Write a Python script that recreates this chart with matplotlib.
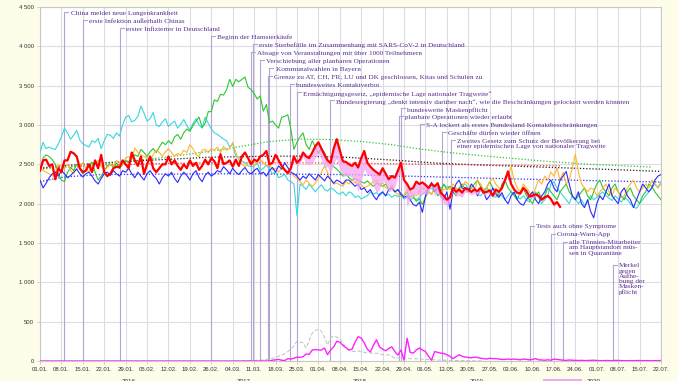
import matplotlib.pyplot as plt
from matplotlib.patches import Rectangle
import numpy as np

# ── daily deaths, day 0 = 01.01. ─────────────────────────────────
deaths_2016 = [
    2300, 2200, 2260, 2330, 2380, 2400, 2350, 2420, 2380, 2330, 2360, 2400, 2440, 2380,
    2340, 2380, 2400, 2350, 2290, 2250, 2320, 2380, 2400, 2360, 2420, 2380, 2350, 2420,
    2400, 2450, 2380, 2330, 2400, 2350, 2300, 2380, 2420, 2360, 2320, 2250, 2330, 2380,
    2350, 2400, 2320, 2270, 2350, 2400, 2360, 2300, 2380, 2420, 2330, 2280, 2360, 2400,
    2350, 2380, 2420, 2400, 2470, 2430, 2380, 2450, 2400, 2370, 2420, 2460, 2400, 2380,
    2420, 2450, 2380, 2400, 2350, 2420, 2460, 2400, 2480, 2440, 2520, 2460, 2400, 2380,
    2350, 2300, 2350, 2320, 2380, 2340, 2300, 2370, 2330, 2290, 2350, 2310, 2260, 2300,
    2280, 2250, 2300, 2300, 2260, 2220, 2250, 2180, 2200, 2140, 2180, 2100, 2050, 2120,
    2150, 2100, 2180, 2200, 2150, 2180, 2120, 2080, 2100, 2050, 1990, 1970, 2020, 1890,
    2100, 2200, 2270, 2150, 2200, 2100, 2050, 2150, 1930, 2150, 2250, 2300, 2200, 2180,
    2150, 2250, 2200, 2100, 2180, 2150, 2050, 2100, 2200, 2120, 2080, 2140, 2050, 2000,
    2100, 2150, 2050, 2000, 1980, 2050, 2100, 2150, 2050, 2000, 2100, 2150, 2250, 2300,
    2200, 2150, 2300, 2350, 2410, 2250, 2100, 2050, 2150, 2000, 1950, 2050, 1900, 1820,
    2000, 2100, 2050, 2150, 2250, 2100, 2050, 2000, 2150, 2200, 2100, 2050, 1950, 2050,
    2150, 2250, 2200, 2150, 2200, 2300, 2350, 2370]

deaths_2017 = [
    2650, 2780, 2700, 2720, 2700, 2690, 2760, 2850, 2960, 2900, 2820, 2870, 2930, 2810,
    2760, 2740, 2720, 2800, 2780, 2830, 2700, 2800, 2880, 2870, 2830, 2900, 2860, 3000,
    3100, 3120, 3040, 3060, 3110, 3240, 3150, 3050, 3080, 3160, 3000, 2980, 3040, 3080,
    2980, 3020, 3050, 2960, 3010, 3070, 2990, 2940, 3020, 3080, 3000, 2960, 3100, 3020,
    2950, 2900, 2880, 2850, 2820, 2800, 2720, 2760, 2600, 2590, 2540, 2520, 2480, 2470,
    2480, 2520, 2420, 2450, 2490, 2440, 2380, 2400, 2330, 2350, 2370, 2300, 2280, 2250,
    1850, 2250, 2220, 2180, 2250, 2200, 2150, 2200, 2240, 2180, 2160, 2200, 2180, 2140,
    2120, 2150, 2100, 2150, 2130, 2080, 2100, 2060, 2080, 2100, 2150, 2120, 2140, 2100,
    2140, 2100, 2120, 2080, 2110, 2090, 2110, 2060, 2080, 2050, 2070, 2050, 2080, 2120,
    2150, 2180, 2200, 2160, 2220, 2200, 2240, 2210, 2220, 2180, 2200, 2160, 2230, 2250,
    2200, 2150, 2180, 2120, 2100, 2150, 2200, 2160, 2120, 2080, 2130, 2100, 2050, 2100,
    2150, 2120, 2080, 2060, 2100, 2050, 2020, 2100, 2150, 2080, 2000, 2050, 2100, 2250,
    2280, 2200, 2150, 2100, 2050, 2000, 2100, 2060, 2000, 2050, 1980, 2020, 2100, 2050,
    2080, 2120, 2150, 2100, 2070, 2040, 2100, 2060, 2020, 2080, 2050, 2000, 1960, 1940,
    2000, 2050, 2100, 2150, 2200, 2250, 2200, 2280]

deaths_2018 = [
    2420, 2580, 2620, 2600, 2560, 2500, 2380, 2300, 2280, 2400, 2460, 2420, 2500, 2450,
    2380, 2420, 2480, 2530, 2400, 2300, 2350, 2420, 2480, 2500, 2460, 2520, 2450, 2500,
    2550, 2520, 2580, 2620, 2600, 2690, 2650, 2600, 2660, 2700, 2650, 2720, 2780, 2750,
    2800, 2760, 2850, 2880, 2820, 2900, 2950, 2920, 2990, 3050, 3100, 2970, 3020, 3170,
    3170, 3320, 3300, 3390, 3380, 3450, 3580, 3490, 3580, 3550, 3580, 3610, 3480, 3450,
    3400, 3330, 3370, 3175, 3260, 3030, 3050, 3000, 2960, 3100, 3110, 3130, 2950, 2690,
    2780, 2850, 2900, 2750, 2690, 2800, 2720, 2640, 2700, 2650, 2560, 2500, 2470, 2440,
    2400, 2350, 2380, 2330, 2300, 2320, 2300, 2280, 2260, 2290, 2250, 2220, 2260, 2240,
    2220, 2250, 2180, 2200, 2150, 2180, 2120, 2100, 2150, 2080, 2100, 2030, 2060, 1990,
    2080, 2150, 2120, 2200, 2100, 2150, 2250, 2180, 2220, 2150, 2100, 2200, 2250, 2180,
    2150, 2200, 2250, 2300, 2220, 2150, 2200, 2280, 2200, 2150, 2100, 2250, 2300, 2200,
    2150, 2100, 2050, 2150, 2200, 2100, 2050, 2000, 2100, 2150, 2050, 2100, 2200, 2150,
    2100, 2050, 2150, 2200, 2250, 2150, 2100, 2050, 2100, 2150, 2200, 2100, 2050, 2150,
    2250, 2300, 2200, 2150, 2100, 2200, 2250, 2150, 2100, 2050, 2150, 2200, 2100, 2050,
    2000, 2100, 2150, 2250, 2220, 2150, 2100, 2050]

deaths_2019 = [
    2450, 2420, 2400, 2380, 2350, 2400, 2500, 2480, 2450, 2500, 2420, 2380, 2450, 2480,
    2520, 2450, 2400, 2480, 2500, 2550, 2480, 2420, 2460, 2500, 2480, 2550, 2520, 2500,
    2580, 2600, 2560, 2710, 2650, 2620, 2600, 2580, 2550, 2620, 2680, 2650, 2600, 2660,
    2700, 2650, 2600, 2640, 2620, 2680, 2650, 2750, 2700, 2620, 2600, 2680, 2690, 2650,
    2700, 2680, 2720, 2650, 2730, 2680, 2700, 2780, 2650, 2550, 2500, 2470, 2520, 2550,
    2480, 2530, 2560, 2520, 2480, 2500, 2430, 2450, 2400, 2450, 2420, 2380, 2400, 2350,
    2320, 2280, 2240, 2300, 2260, 2220, 2260, 2320, 2400, 2480, 2400, 2300, 2250, 2260,
    2240, 2220, 2280, 2250, 2300, 2260, 2310, 2240, 2200, 2220, 2250, 2280, 2300, 2240,
    2260, 2200, 2180, 2240, 2150, 2120, 2090, 2100, 2180, 2150, 2120, 2100, 2160, 2200,
    2180, 2150, 2120, 2200, 2220, 2150, 2180, 2200, 2180, 2250, 2200, 2150, 2220, 2280,
    2250, 2200, 2150, 2300, 2250, 2180, 2200, 2280, 2320, 2250, 2200, 2180, 2300, 2350,
    2470, 2300, 2200, 2150, 2250, 2200, 2150, 2100, 2200, 2300, 2250, 2350, 2300, 2400,
    2350, 2450, 2300, 2400, 2250, 2300, 2450, 2630, 2400, 2250, 2200, 2150, 2200, 2180,
    2100, 2150, 2200, 2250, 2150, 2100, 2200, 2150, 2080, 2100, 2200, 2250, 2300, 2200,
    2150, 2200, 2250, 2200, 2300, 2250, 2200, 2250]

deaths_2020 = [
    2420, 2550, 2560, 2480, 2500, 2310, 2450, 2400, 2550, 2550, 2660, 2640, 2600, 2450,
    2400, 2420, 2500, 2400, 2550, 2450, 2620, 2400, 2350, 2380, 2450, 2470, 2460, 2550,
    2500, 2450, 2650, 2550, 2480, 2600, 2380, 2500, 2600, 2450, 2400, 2450, 2500, 2500,
    2600, 2500, 2550, 2480, 2430, 2500, 2450, 2550, 2480, 2520, 2430, 2480, 2560, 2500,
    2580, 2540, 2450, 2630, 2500, 2520, 2550, 2470, 2560, 2480, 2600, 2650, 2580, 2500,
    2560, 2540, 2600, 2620, 2670, 2500, 2520, 2620, 2550, 2480, 2430, 2390, 2450, 2600,
    2520, 2560, 2650, 2600, 2580, 2650, 2730, 2780, 2700, 2620, 2550, 2520, 2700, 2820,
    2680, 2540, 2530, 2500, 2480, 2520, 2460, 2580, 2670, 2520, 2470, 2430, 2400, 2370,
    2450, 2380, 2310, 2350, 2330, 2420, 2520, 2300, 2250, 2180, 2200, 2280, 2250, 2270,
    2240, 2200, 2250, 2220, 2260, 2140, 2100, 2050, 2080, 2200, 2150, 2180, 2140, 2200,
    2180, 2150, 2180, 2160, 2200, 2140, 2150, 2170, 2100, 2180, 2150, 2200, 2300, 2410,
    2250, 2180, 2140, 2130, 2200, 2160, 2090, 2100, 2120, 2100, 2050, 2080, 2100, 2060,
    1990, 2020, 1960]

# COVID-19 deaths 2020 (by date of death) and reported deaths
covid_2020 = [0] * 75 + [
    0, 10, 15, 20, 10, 5, 30, 25, 35, 50, 45, 55, 90, 85, 140,
    145, 140, 140, 165, 80, 140, 180, 250, 240, 200, 170, 140, 150, 240, 310,
    290, 230, 150, 115, 200, 270, 180, 150, 130, 160, 180, 120, 75, 140, 10,
    290, 110, 100, 140, 165, 140, 120, 60, 10, 120, 110, 100, 95, 80, 60,
    30, 55, 80, 60, 50, 45, 40, 50, 45, 35, 30, 25, 35, 30, 30,
    25, 20, 20, 25, 20, 25, 20, 15, 25, 20, 15, 20, 30, 15, 12,
    10, 15, 10, 25, 20, 15,
    10, 8, 12, 10, 8, 6, 8, 5, 6, 8, 10, 6, 5, 4, 6, 5, 4, 8, 6, 5,
    4, 3, 5, 4, 6, 5, 3, 4, 5, 3, 4, 5, 6]

reported_start = 66
reported_2020 = [
    0, 2, 5, 5, 8, 10, 12, 15, 20, 25,
    35, 45, 60, 75, 90, 120, 150, 195, 250, 240,
    230, 165, 260, 355, 390, 400, 380, 300, 205, 290,
    320, 305, 280, 230, 160, 140, 125, 120, 130, 115,
    110, 100, 105, 95, 100, 90, 80, 75, 80, 60,
    35, 40, 35, 30, 35, 30, 25, 30, 20, 25,
    20, 18, 15, 15, 12, 12, 10, 10, 8, 8,
    6, 6, 5, 5, 4, 4, 3, 3, 2, 2]

# smoothed trends (read at sample days)
trend_2018_days = [0, 15, 30, 45, 60, 75, 85, 95, 105, 115, 125, 135, 150, 165, 180, 200]
trend_2018 = [2440, 2480, 2540, 2610, 2690, 2790, 2820, 2815, 2790, 2750, 2690, 2645, 2590, 2540, 2500, 2465]
trend_mean_days = [0, 10, 25, 40, 55, 70, 85, 100, 115, 130, 145, 160, 175, 190, 203]
trend_mean = [2450, 2490, 2530, 2560, 2590, 2600, 2605, 2590, 2555, 2515, 2490, 2470, 2450, 2430, 2410]
trend_2020_days = [0, 20, 40, 60, 80, 100, 120, 140, 160, 170]
trend_2020 = [2460, 2490, 2510, 2520, 2520, 2515, 2505, 2495, 2485, 2480]
trend_2016_days = [0, 8, 20, 60, 100, 130, 160, 203]
trend_2016 = [2280, 2340, 2370, 2380, 2370, 2340, 2310, 2275]

# events: day, label height, text
event_days = [8, 14, 26, 56, 69.5, 69, 72, 75, 74.5, 81.7, 84, 94.8,
              118, 117.4, 124.2, 131.4, 134.4, 160.2, 167, 171, 187.3]
event_levels = [4436, 4335, 4233, 4130, 4028, 3926, 3824, 3722, 3620, 3518, 3416, 3314,
                3212, 3110, 3008, 2906, 2805, 1721, 1619, 1517, 1224]
event_texts = [
    "China meldet neue Lungenkrankheit",
    "erste Infektion außerhalb Chinas",
    "erster Infizierter in Deutschland",
    "Beginn der Hamsterkäufe",
    "erste Sterbefälle im Zusammenhang mit SARS-CoV-2 in Deutschland",
    "Absage von Veranstaltungen mit über 1000 Teilnehmern",
    "Verschiebung aller planbaren Operationen",
    "Kommunalwahlen in Bayern",
    "Grenze zu AT, CH, FR, LU und DK geschlossen, Kitas und Schulen zu",
    "bundesweites Kontaktverbot",
    "Ermächtigungsgesetz, „epidemische Lage nationaler Tragweite“",
    "Bundesregierung „denkt intensiv darüber nach“, wie die Beschränkungen gelockert werden könnten",
    "bundesweite Maskenpflicht",
    "planbare Operationen wieder erlaubt",
    "S-A lockert als erstes Bundesland Kontaktbeschränkungen",
    "Geschäfte dürfen wieder öffnen",
    "Zweites Gesetz zum Schutz der Bevölkerung bei\neiner epidemischen Lage von nationaler Tragweite",
    "Tests auch ohne Symptome",
    "Corona-Warn-App",
    "alle Tönnies-Mitarbeiter\nam Hauptstandort müs-\nsen in Quarantäne",
    "Merkel\ngegen\nAufhe-\nbung der\nMasken-\npflicht",
]

week_labels = ["01.01.", "08.01.", "15.01.", "22.01.", "29.01.", "05.02.", "12.02.", "19.02.",
               "26.02.", "04.03.", "11.03.", "18.03.", "25.03.", "01.04.", "08.04.", "15.04.",
               "22.04.", "29.04.", "06.05.", "13.05.", "20.05.", "27.05.", "03.06.", "10.06.",
               "17.06.", "24.06.", "01.07.", "08.07.", "15.07.", "22.07."]
y_values = [0, 500, 1000, 1500, 2000, 2500, 3000, 3500, 4000, 4500]
y_labels = ["0", "500", "1 000", "1 500", "2 000", "2 500", "3 000", "3 500", "4 000", "4 500"]
years = ["2016", "2017", "2018", "2019", "2020"]

# ── figure ────────────────────────────────────────────────────────
W, H = 678, 381
fig = plt.figure(figsize=(W / 100, H / 100), dpi=100)
fig.patch.set_facecolor("#fdfdea")
ax = fig.add_axes([40 / W, 1 - 361 / H, 621 / W, 354 / H])
ax.set_facecolor("white")
ax.set_xlim(0, 203)
ax.set_ylim(0, 4500)

for sp in ax.spines.values():
    sp.set_edgecolor("#c8c8c8")
    sp.set_linewidth(0.8)

ax.set_yticks(y_values)
ax.set_yticklabels(y_labels)
ax.set_xticks(np.arange(0, 204, 7))
ax.set_xticklabels(week_labels)
ax.tick_params(axis="both", labelsize=4.3, colors="#c8c8c8", labelcolor="#333333",
               length=2.5, width=0.6, pad=2)
for lab in ax.get_xticklabels() + ax.get_yticklabels():
    lab.set_family("Liberation Sans")
ax.grid(True, color="#dcdce6", linewidth=0.8, zorder=0)
ax.set_axisbelow(True)

# ── events: vertical line, small dash, label ─────────────────────
purple_line = "#b4a4d6"
purple_text = "#5b2d8e"
for d, lev, txt in zip(event_days, event_levels, event_texts):
    ax.plot([d, d], [0, lev], color=purple_line, lw=0.8, zorder=1)
    ax.plot([d, d + 1.3], [lev, lev], color=purple_line, lw=0.8, zorder=1)
    ax.annotate(txt, (d + 2.0, lev), fontsize=5.2, family="Liberation Serif",
                color=purple_text, va="top", ha="left", linespacing=1.05,
                xytext=(0, 1.0), textcoords="offset points", zorder=6)

days = np.arange(204)
d2020 = np.arange(len(deaths_2020))
red = np.array(deaths_2020)
cov = np.array(covid_2020)

# trends
ax.plot(trend_2018_days, trend_2018, color="#2ec62e", lw=0.9, ls=(0, (1, 1.5)), zorder=3)
ax.plot(trend_mean_days, trend_mean, color="#222222", lw=0.9, ls=(0, (1, 1.5)), zorder=3)
ax.plot(trend_2020_days, trend_2020, color="#ff3030", lw=0.9, ls=(0, (1, 1.5)), zorder=3)
ax.plot(trend_2016_days, trend_2016, color="#3030ff", lw=0.9, ls=(0, (1, 1.5)), zorder=3)

# yearly series
ax.plot(days, deaths_2017, color="#38d8dc", lw=0.8, zorder=4)
ax.plot(days, deaths_2018, color="#2ec62e", lw=0.8, zorder=4)
ax.plot(days, deaths_2019, color="#ffb52e", lw=0.8, zorder=4)
ax.plot(days, deaths_2016, color="#2a2aff", lw=0.8, zorder=4)
ax.fill_between(d2020, red, red - cov[:len(red)], color="#f4a6f0", alpha=0.75, lw=0, zorder=4)
ax.plot(d2020, red, color="#ff0000", lw=1.6, zorder=5)

# covid deaths
ax.plot(np.arange(reported_start, reported_start + len(reported_2020)), reported_2020,
        color="#c0c0c0", lw=0.7, ls=(0, (4, 2)), zorder=4)
ax.plot(days, covid_2020, color="#ff22ff", lw=1.0, zorder=5)

# legend row (mostly cut off at the bottom edge, as in the original)
for xp, yr in zip([122, 237, 353, 470, 587], years):
    fig.text(xp / W, 1 - 379 / H, yr, fontsize=4.5, family="Liberation Sans",
             color="#333333", va="top", ha="left")
fig.add_artist(Rectangle((543 / W, 0), 39 / W, 2.5 / H, transform=fig.transFigure,
                         facecolor="#f4a6f0", edgecolor="none"))

fig.savefig("out.png", dpi=100, facecolor=fig.get_facecolor())
